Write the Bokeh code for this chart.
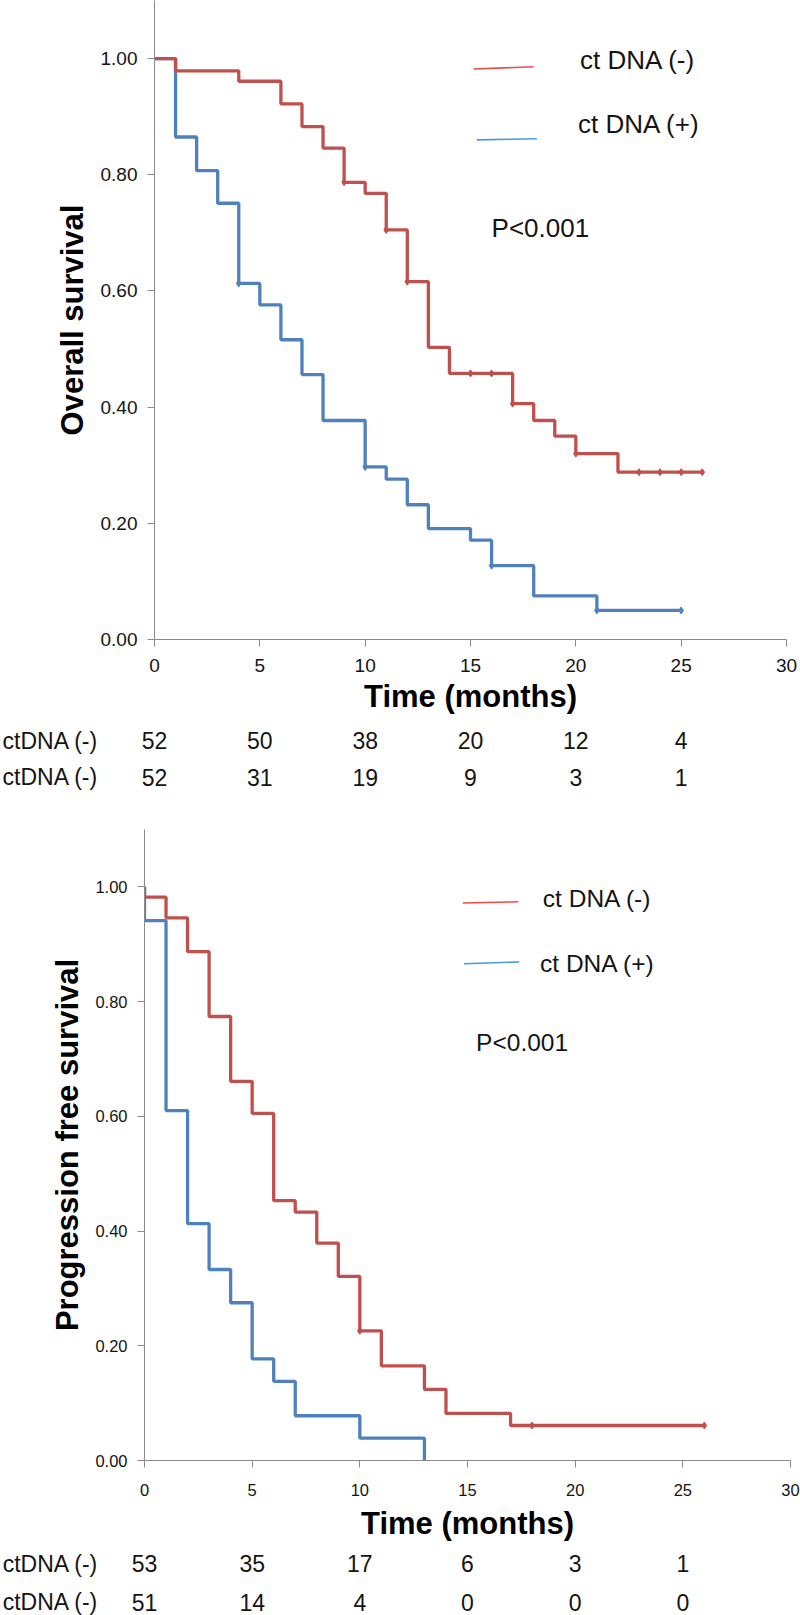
import numpy as np
from bokeh.plotting import figure
from bokeh.models import Range1d, FixedTicker, PrintfTickFormatter
from bokeh.core.properties import value
from bokeh.embed import file_html
from bokeh.resources import INLINE

# ---------------- data ----------------
# Overall survival, ctDNA (-)
os_neg_t = [0, 1, 4, 6, 7, 8, 9, 10, 11, 12, 13, 14, 17, 18, 19, 20, 22]
os_neg_s = [1.0, 0.979, 0.961, 0.922, 0.883, 0.846, 0.787, 0.768, 0.705, 0.616,
            0.503, 0.458, 0.406, 0.377, 0.350, 0.320, 0.288]
os_neg_end = 26
os_neg_cens = [9, 11, 12, 15, 16, 17, 20, 23, 24, 25, 26]
# Overall survival, ctDNA (+)
os_pos_t = [0, 1, 2, 3, 4, 5, 6, 7, 8, 10, 11, 12, 13, 15, 16, 18, 21]
os_pos_s = [1.0, 0.865, 0.807, 0.751, 0.613, 0.576, 0.516, 0.456, 0.377, 0.297,
            0.276, 0.232, 0.191, 0.171, 0.127, 0.075, 0.050]
os_pos_end = 25
os_pos_cens = [4, 10, 16, 21, 25]

# Progression free survival, ctDNA (-)
pfs_neg_t = [0, 0, 1, 2, 3, 4, 5, 6, 7, 8, 9, 10, 11, 13, 14, 17]
pfs_neg_s = [1.0, 0.982, 0.946, 0.887, 0.774, 0.661, 0.605, 0.453, 0.433, 0.379,
             0.321, 0.226, 0.165, 0.124, 0.082, 0.061]
pfs_neg_end = 26
pfs_neg_cens = [10, 18, 26]
# Progression free survival, ctDNA (+)
pfs_pos_t = [0, 0, 1, 2, 3, 4, 5, 6, 7, 10, 13]
pfs_pos_s = [1.0, 0.941, 0.610, 0.413, 0.333, 0.275, 0.177, 0.138, 0.078, 0.039, 0.0]
pfs_pos_end = 13
pfs_pos_cens = []

# numbers at risk
risk_times = [0, 5, 10, 15, 20, 25]
os_risk_neg = [52, 50, 38, 20, 12, 4]
os_risk_pos = [52, 31, 19, 9, 3, 1]
pfs_risk_neg = [53, 35, 17, 6, 3, 1]
pfs_risk_pos = [51, 14, 4, 0, 0, 0]
risk_row_labels = ["ctDNA (-)", "ctDNA (-)"]

legend_labels = ["ct DNA (-)", "ct DNA (+)"]
p_text = "P<0.001"
x_ticks = [0, 5, 10, 15, 20, 25, 30]
y_ticks = [0.0, 0.2, 0.4, 0.6, 0.8, 1.0]

# ---------------- style ----------------
RED = "#c0504d"
BLUE = "#4f81bd"
LEG_RED = "#ee4a4a"
LEG_BLUE = "#4a9ad8"
AXIS_GRAY = "#8a8a8a"
TXT = "#141414"
FONT = "Liberation Sans"
W = 800


def steps(t, s, end):
    xs, ys = [t[0]], [s[0]]
    for i in range(1, len(t)):
        xs += [t[i], t[i]]
        ys += [s[i - 1], s[i]]
    xs.append(end)
    ys.append(s[-1])
    return xs, ys


def surv_at(t, s, x):
    v = s[0]
    for ti, si in zip(t, s):
        if ti <= x:
            v = si
    return v


def km_figure(height, mbl, mbr, mbt, mbb, ylabel, tick_fs, curves, legend, ptext_pos,
              leg_fs, xstand, xlab_stand, ylab_stand, title_fs):
    p = figure(width=W, height=height, output_backend="svg", toolbar_location=None,
               x_range=Range1d(0, 30), y_range=Range1d(0, 1.1),
               min_border_left=mbl, min_border_right=mbr,
               min_border_top=mbt, min_border_bottom=mbb)
    p.outline_line_color = None
    p.grid.visible = False
    p.background_fill_color = "white"
    p.border_fill_color = "white"

    p.xaxis.ticker = FixedTicker(ticks=x_ticks)
    p.yaxis.ticker = FixedTicker(ticks=y_ticks)
    p.yaxis.formatter = PrintfTickFormatter(format="%.2f")
    for ax in (p.xaxis, p.yaxis):
        ax.axis_line_color = AXIS_GRAY
        ax.major_tick_line_color = AXIS_GRAY
        ax.minor_tick_line_color = None
        ax.major_tick_in = 0
        ax.major_tick_out = 7
        ax.major_label_text_font = FONT
        ax.major_label_text_font_size = tick_fs
        ax.major_label_text_color = TXT
        ax.axis_label_text_font = FONT
        ax.axis_label_text_font_style = "bold"
        ax.axis_label_text_color = "black"
        ax.axis_label_text_font_size = title_fs
    p.xaxis.major_label_standoff = xstand
    p.yaxis.major_label_standoff = 10
    p.xaxis.axis_label = "Time (months)"
    p.xaxis.axis_label_standoff = xlab_stand
    p.yaxis.axis_label = ylabel
    p.yaxis.axis_label_standoff = ylab_stand

    # curves: blue first, red on top
    for (t, s, end, cens, col) in curves:
        xs, ys = steps(t, s, end)
        p.line(xs, ys, line_color=col, line_width=3.3)
        if cens:
            cy = [surv_at(t, s, c) for c in cens]
            p.scatter(cens, cy, marker="diamond", size=7, color=col)

    # legend (thin lines + labels)
    (l1x, l1y, t1x, t1y), (l2x, l2y, t2x, t2y) = legend
    p.line(l1x, l1y, line_color=LEG_RED, line_width=1.6)
    p.line(l2x, l2y, line_color=LEG_BLUE, line_width=1.6)
    p.text([t1x, t2x], [t1y, t2y], text=legend_labels, text_font=value(FONT),
           text_font_size=leg_fs, text_baseline="middle", text_align="left",
           text_color=TXT)
    p.text([ptext_pos[0]], [ptext_pos[1]], text=[p_text], text_font=value(FONT),
           text_font_size=leg_fs, text_baseline="middle", text_align="left",
           text_color=TXT)
    return p


def risk_figure(height, mbl, mbr, rows_y, neg, pos, fs):
    frame_w = W - mbl - mbr
    x0 = -mbl * 30.0 / frame_w
    x1 = 30 + mbr * 30.0 / frame_w
    r = figure(width=W, height=height, output_backend="svg", toolbar_location=None,
               x_range=Range1d(x0, x1), y_range=Range1d(height, 0),
               x_axis_type=None, y_axis_type=None, min_border=0)
    r.outline_line_color = None
    r.grid.visible = False
    r.text([x0 + 0.1] * 2, rows_y, text=risk_row_labels, text_font=value(FONT),
           text_font_size=fs, text_baseline="middle", text_align="left", text_color=TXT)
    r.text(risk_times, [rows_y[0]] * len(risk_times), text=[str(v) for v in neg],
           text_font=value(FONT), text_font_size=fs, text_baseline="middle",
           text_align="center", text_color=TXT)
    r.text(risk_times, [rows_y[1]] * len(risk_times), text=[str(v) for v in pos],
           text_font=value(FONT), text_font_size=fs, text_baseline="middle",
           text_align="center", text_color=TXT)
    return r


# ---------------- overall survival ----------------
p1 = km_figure(
    height=718, mbl=154, mbr=14, mbt=0, mbb=79, ylabel="Overall survival", tick_fs="19px",
    curves=[(os_pos_t, os_pos_s, os_pos_end, os_pos_cens, BLUE),
            (os_neg_t, os_neg_s, os_neg_end, os_neg_cens, RED)],
    legend=(([15.15, 18.0], [0.982, 0.986], 20.2, 0.997),
            ([15.3, 18.15], [0.860, 0.862], 20.1, 0.888)),
    ptext_pos=(16.0, 0.709), leg_fs="26px", xstand=12, xlab_stand=4, ylab_stand=8,
    title_fs="31px")
r1 = risk_figure(82, 154, 14, [22.0, 58.7], os_risk_neg, os_risk_pos, "23px")

# ---------------- progression free survival ----------------
p2 = km_figure(
    height=743, mbl=144, mbr=10, mbt=29, mbb=81, ylabel="Progression free survival",
    tick_fs="16.5px",
    curves=[(pfs_pos_t, pfs_pos_s, pfs_pos_end, pfs_pos_cens, BLUE),
            (pfs_neg_t, pfs_neg_s, pfs_neg_end, pfs_neg_cens, RED)],
    legend=(([14.78, 17.36], [0.972, 0.974], 18.5, 0.98),
            ([14.84, 17.4], [0.866, 0.869], 18.37, 0.867)),
    ptext_pos=(15.4, 0.729), leg_fs="24.5px", xstand=16, xlab_stand=7, ylab_stand=7,
    title_fs="31px")
r2 = risk_figure(72, 144, 10, [20.3, 58.7], pfs_risk_neg, pfs_risk_pos, "23px")

open("out.html", "w").write(file_html([p1, r1, p2, r2], INLINE))
